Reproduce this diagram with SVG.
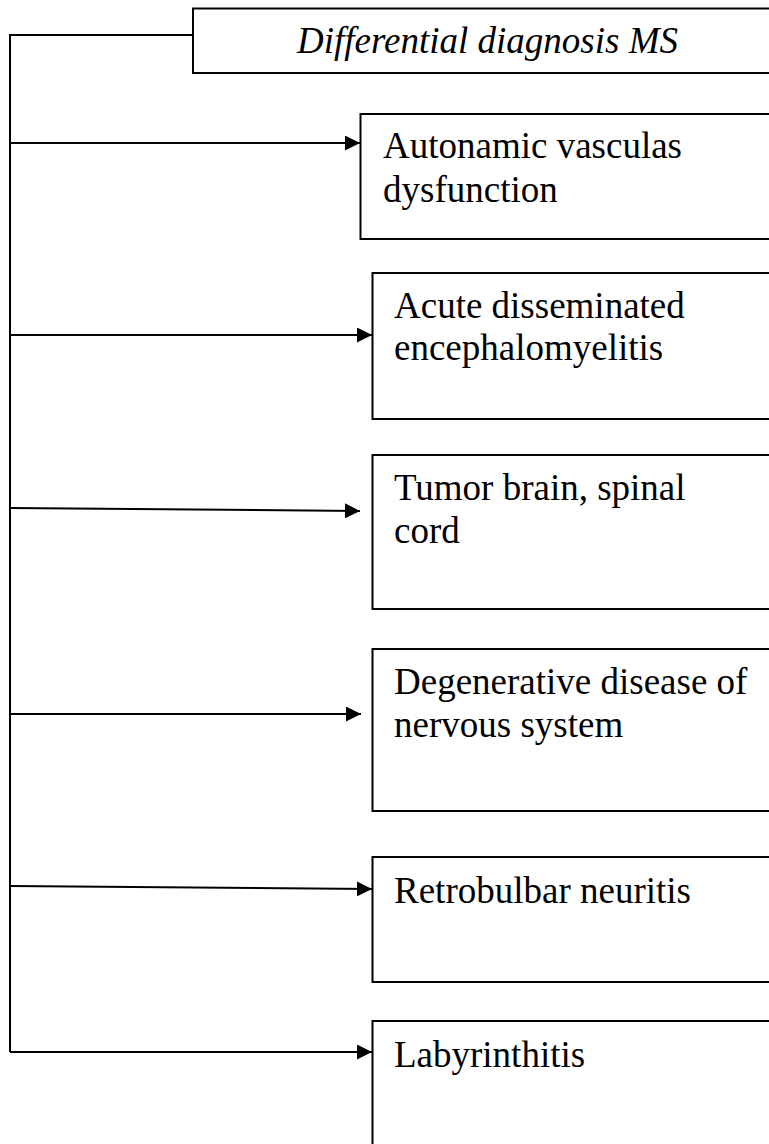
<svg xmlns="http://www.w3.org/2000/svg" width="769" height="1144" viewBox="0 0 769 1144">
  <style>
    .box { fill: #ffffff; stroke: #000000; stroke-width: 2; }
    .lbl { font-family: "Liberation Serif", "Times New Roman", serif; font-size: 37px; fill: #000000; }
    .title { font-style: italic; }
    .conn { fill: none; stroke: #000000; stroke-width: 2; }
  </style>
  <defs>
    <marker id="arrow" markerUnits="userSpaceOnUse" markerWidth="15" markerHeight="15" refX="15" refY="7.5" orient="auto">
      <path d="M0,0 L15,7.5 L0,15 z" fill="#000000"/>
    </marker>
  </defs>
  <rect width="769" height="1144" fill="#ffffff"/>

  <g id="connectors">
    <polyline class="conn" points="193,35 10,35 10,1052"/>
    <line class="conn" x1="10" y1="143" x2="360" y2="143" marker-end="url(#arrow)"/>
    <line class="conn" x1="10" y1="335" x2="372" y2="335" marker-end="url(#arrow)"/>
    <line class="conn" x1="10" y1="508" x2="360" y2="511" marker-end="url(#arrow)"/>
    <line class="conn" x1="10" y1="714" x2="361" y2="714" marker-end="url(#arrow)"/>
    <line class="conn" x1="10" y1="886" x2="372" y2="889" marker-end="url(#arrow)"/>
    <line class="conn" x1="10" y1="1052" x2="372" y2="1052" marker-end="url(#arrow)"/>
  </g>

  <g id="node-title">
    <rect class="box" x="193" y="8.5" width="600" height="64.5"/>
    <text class="lbl title" x="297" y="53">Differential diagnosis MS</text>
  </g>

  <g id="node-autonomic">
    <rect class="box" x="360.5" y="114" width="430" height="125"/>
    <text class="lbl" x="383" y="158">Autonamic vasculas</text>
    <text class="lbl" x="383" y="202">dysfunction</text>
  </g>

  <g id="node-adem">
    <rect class="box" x="372.5" y="273" width="420" height="146"/>
    <text class="lbl" x="394" y="318">Acute disseminated</text>
    <text class="lbl" x="394" y="360">encephalomyelitis</text>
  </g>

  <g id="node-tumor">
    <rect class="box" x="372.5" y="455" width="420" height="154"/>
    <text class="lbl" x="394" y="500">Tumor brain, spinal</text>
    <text class="lbl" x="394" y="543">cord</text>
  </g>

  <g id="node-degenerative">
    <rect class="box" x="372.5" y="649" width="420" height="162"/>
    <text class="lbl" x="394" y="694">Degenerative disease of</text>
    <text class="lbl" x="394" y="737">nervous system</text>
  </g>

  <g id="node-retrobulbar">
    <rect class="box" x="372.5" y="857" width="420" height="125"/>
    <text class="lbl" x="394" y="903">Retrobulbar neuritis</text>
  </g>

  <g id="node-labyrinthitis">
    <rect class="box" x="372.5" y="1021" width="420" height="160"/>
    <text class="lbl" x="394" y="1067">Labyrinthitis</text>
  </g>
</svg>
